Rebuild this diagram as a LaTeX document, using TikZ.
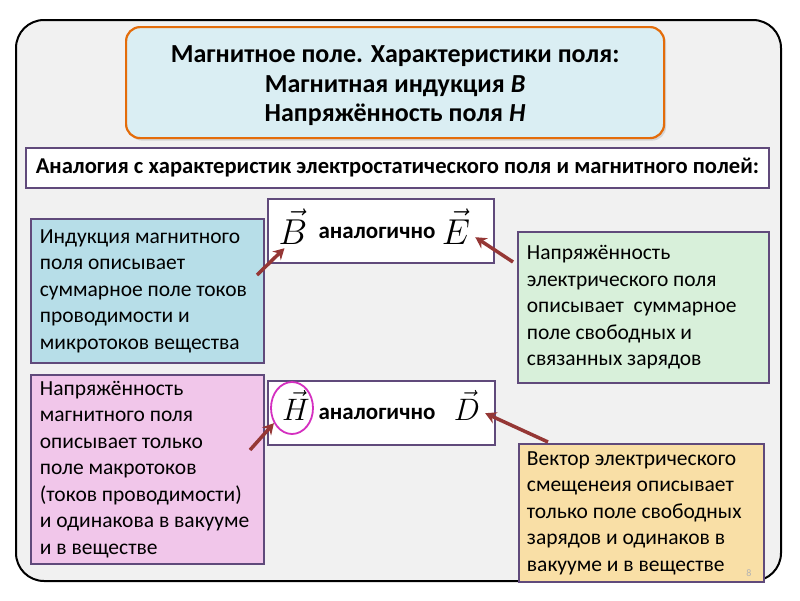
\RequirePackage{fix-cm}
\documentclass[tikz,border=0pt]{standalone}
\usepackage{fontspec}
\setmainfont{Carlito}
\usetikzlibrary{arrows.meta,shapes.geometric,shadows}

\definecolor{framefill}{HTML}{F1F1F1}
\definecolor{titlefill}{HTML}{DAEEF3}
\definecolor{titleline}{HTML}{E46C0A}
\definecolor{boxline}{HTML}{604A7B}
\definecolor{bluefill}{HTML}{B7DEE8}
\definecolor{greenfill}{HTML}{D8F0DA}
\definecolor{pinkfill}{HTML}{F1C6EA}
\definecolor{yellowfill}{HTML}{F9DFA6}
\definecolor{arrowred}{HTML}{953735}
\definecolor{ringline}{HTML}{D42FC0}

\tikzset{
  panel/.style={draw=boxline, line width=1.8pt, anchor=north west, inner sep=0pt},
  notebox/.style={panel, align=flush left, inner xsep=9pt,
    font=\fontsize{21.5}{26.5}\selectfont},
  bigsymb/.style={inner sep=0pt, anchor=base, font=\fontsize{36}{40}\selectfont},
  midsymb/.style={inner sep=0pt, anchor=base, font=\fontsize{31}{36}\selectfont},
  analog/.style={inner sep=0pt, anchor=base, font=\bfseries\fontsize{23}{26}\selectfont},
  pointer/.style={draw=arrowred, line width=3.5pt,
    -{Stealth[length=11pt,width=12pt]}},
}

\begin{document}
\begin{tikzpicture}[x=1pt, y=-1pt]

  \useasboundingbox (0,0) rectangle (800,600);
  \fill [white] (0,0) rectangle (800,600);

  % slide frame
  \draw [fill=framefill, line width=2pt, rounded corners=28pt] (16,20) rectangle (781,581);

  % heading
  \node [panel, draw=titleline, line width=2.2pt, fill=titlefill, rounded corners=14pt,
    drop shadow={opacity=0.25, shadow xshift=2pt, shadow yshift=-2.5pt},
    minimum width=538pt, minimum height=111pt] (titlebox) at (125,26) {};
  \node [align=center, inner sep=0pt, font=\bfseries\fontsize{26}{29.5}\selectfont]
    (titletext) at ([yshift=-3.5pt]titlebox.center)
    {Магнитное поле. Характеристики поля:\\
     Магнитная индукция \textit{B}\\
     Напряжённость поля \textit{H}};

  \node [panel, fill=white, minimum width=743pt, minimum height=40pt,
    font=\bfseries\fontsize{22.6}{26}\selectfont] (subtitle) at (25,147)
    {Аналогия с характеристик электростатического поля и магнитного полей:};

  % analogy boxes
  \node [panel, fill=white, minimum width=226pt, minimum height=64pt] (rowB) at (267,198) {};
  \node [bigsymb] (vB) at (293,244) {$\vec{B}$};
  \node [analog] (anB) at (377,238) {аналогично};
  \node [bigsymb] (vE) at (456,244) {$\vec{E}$};

  \node [panel, fill=white, minimum width=227pt, minimum height=64pt] (rowH) at (267,380) {};
  \node [midsymb] (vH) at (296,420) {$\vec{H}$};
  \node [draw=ringline, line width=1.8pt, ellipse, minimum width=42pt, minimum height=52pt]
    (ring) at (292,408) {};
  \node [analog] (anH) at (377,419) {аналогично};
  \node [midsymb] (vD) at (467,420) {$\vec{D}$};

  % descriptions
  \node [notebox, fill=bluefill, minimum width=233pt, minimum height=144pt,
    text width=215pt] (indB) at (30,218)
    {Индукция магнитного\\поля описывает\\суммарное поле токов\\проводимости и\\микротоков вещества};

  \node [notebox, fill=greenfill, minimum width=251pt, minimum height=151pt,
    text width=233pt] (strE) at (517,231)
    {Напряжённость\\электрического поля\\описывает\ \ суммарное\\поле свободных и\\связанных зарядов};

  \node [notebox, fill=pinkfill, minimum width=233pt, minimum height=189pt,
    text width=215pt] (strH) at (30,374)
    {Напряжённость\\магнитного поля\\описывает только\\поле макротоков\\(токов проводимости)\\и одинакова в вакууме\\и в веществе};

  \node [notebox, fill=yellowfill, minimum width=245pt, minimum height=138pt,
    text width=229pt, inner xsep=8pt] (dispD) at (518,443)
    {Вектор электрического\\смещенеия описывает\\только поле свободных\\зарядов и одинаков в\\вакууме и в веществе};

  \node [text=gray!60, inner sep=0pt, font=\fontsize{10}{12}\selectfont] (pagenum) at (749,573) {8};

  % arrows
  \coordinate (tailB) at (257,275);
  \coordinate (tailE) at (513,262);
  \coordinate (tailH) at (250,450);
  \coordinate (tailD) at (548,442);
  \draw [pointer] (tailB) -- ([shift={(6,4)}]vB.south west);
  \draw [pointer] (tailE) -- ([shift={(5,-7)}]vE.south east);
  \draw [pointer] (tailH) -- (ring.220);
  \draw [pointer] (tailD) -- ([shift={(5,-7)}]vD.south east);

\end{tikzpicture}
\end{document}
